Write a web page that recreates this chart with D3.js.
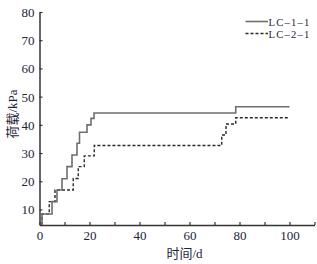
<!DOCTYPE html>
<html><head><meta charset="utf-8">
<script src="https://cdn.jsdelivr.net/npm/d3@7"></script>
<style>body{margin:0;background:#fff}svg{display:block}</style>
</head><body>
<script>
// Data (time in days, load in kPa), step series
const seriesNames = ["LC–1–1", "LC–2–1"];
const lc11Time = [1, 1, 5, 7, 9, 11, 13, 15, 16, 19, 20.6, 21.8, 78.5, 100];
const lc11Load = [4.5, 8.4, 12.8, 16.9, 20.9, 25.2, 29.3, 33.5, 37.4, 40.0, 42.3, 44.2, 46.4, 46.4];
const lc21Time = [1, 1, 3.9, 6.2, 13.5, 15.5, 17.9, 21.9, 72.9, 74.6, 78.5, 100];
const lc21Load = [4.5, 8.4, 12.8, 16.9, 21.0, 25.2, 29.0, 32.7, 36.4, 40.3, 42.5, 42.5];
const xTicks = [0, 10, 20, 30, 40, 50, 60, 70, 80, 90, 100, 110];
const xLabels = [0, 20, 40, 60, 80, 100];
const yTicks = [10, 20, 30, 40, 50, 60, 70, 80];

const W = 317, H = 264;
const svg = d3.select("body").append("svg").attr("width", W).attr("height", H);
const x = d3.scaleLinear().domain([0, 110]).range([39.5, 314.5]);
const y = d3.scaleLinear().domain([4.5, 80]).range([225, 12]);
const font = "'Liberation Serif','Noto Sans CJK SC',serif";
const axisColor = "#333";

// axes
const xAxis = svg.append("g").attr("transform", `translate(0,${y(4.5)})`)
  .call(d3.axisBottom(x).tickValues(xTicks).tickSizeInner(-3).tickSizeOuter(0)
    .tickFormat(d => xLabels.includes(d) ? d : ""));
const yAxis = svg.append("g").attr("transform", `translate(${x(0)},0)`)
  .call(d3.axisLeft(y).tickValues(yTicks).tickSizeInner(-3).tickSizeOuter(0));
[xAxis, yAxis].forEach(g => {
  g.select(".domain").attr("stroke", axisColor).attr("stroke-width", 1.5);
  g.selectAll(".tick line").attr("stroke", axisColor).attr("stroke-width", 1.2);
  g.selectAll("text").attr("font-family", font).attr("font-size", 13).attr("fill", "#1e2438");
});
xAxis.selectAll("text").attr("dy", null).attr("y", 15);
yAxis.selectAll("text").attr("x", -5).attr("dy", "0.34em");

// lines
const line = d3.line().curve(d3.curveStepAfter);
function pts(t, v) { return t.map((d, i) => [x(d), y(v[i])]); }
svg.append("path").attr("d", line(pts(lc21Time, lc21Load)))
  .attr("fill", "none").attr("stroke", "#2a2a2a").attr("stroke-width", 1.4)
  .attr("stroke-dasharray", "3,2");
svg.append("path").attr("d", line(pts(lc11Time, lc11Load)))
  .attr("fill", "none").attr("stroke", "#6e6e6e").attr("stroke-width", 1.6);

// legend
const lg = svg.append("g");
const legendStyles = [{stroke: "#6e6e6e", dash: null, w: 1.6}, {stroke: "#2a2a2a", dash: "3,2", w: 1.4}];
seriesNames.forEach((n, i) => {
  const yy = 21.5 + i * 12;
  lg.append("line").attr("x1", 245.5).attr("x2", 268).attr("y1", yy).attr("y2", yy)
    .attr("stroke", legendStyles[i].stroke).attr("stroke-width", legendStyles[i].w)
    .attr("stroke-dasharray", legendStyles[i].dash);
  lg.append("text").attr("x", 268.5).attr("y", yy + 4).text(n)
    .attr("font-family", font).attr("font-size", 10.6).attr("letter-spacing", 1.2)
    .attr("fill", "#1e2438");
});

// axis titles
svg.append("text").attr("x", 184.5).attr("y", 258).attr("text-anchor", "middle")
  .attr("font-family", font).attr("font-size", 13).attr("fill", "#1e2438").text("时间/d");
svg.append("text").attr("transform", "translate(17,114) rotate(-90)").attr("text-anchor", "middle")
  .attr("font-family", font).attr("font-size", 13).attr("fill", "#1e2438").text("荷载/kPa");
</script>
</body></html>
